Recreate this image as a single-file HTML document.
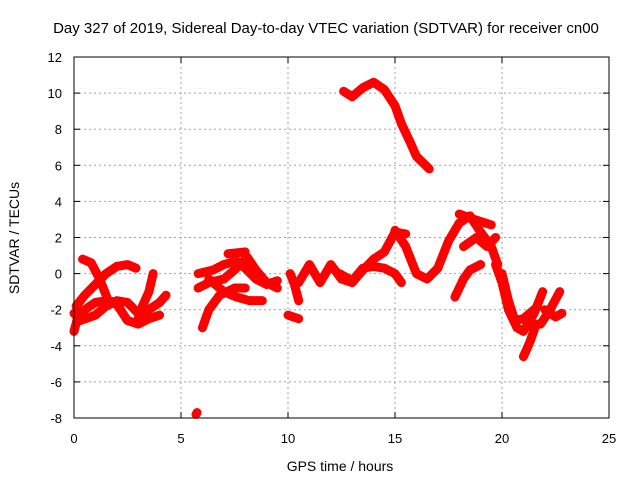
<!DOCTYPE html>
<html><head><meta charset="utf-8"><style>
body{margin:0;background:#fff;}
svg{font-family:"Liberation Sans",sans-serif;}
</style></head><body>
<svg id="chart" width="640" height="480">
<text x="326" y="33" font-size="15" text-anchor="middle">Day 327 of 2019, Sidereal Day-to-day VTEC variation (SDTVAR) for receiver cn00</text>
<text x="340" y="471" font-size="14" text-anchor="middle">GPS time / hours</text>
<text transform="translate(19,238) rotate(-90)" font-size="14" text-anchor="middle">SDTVAR / TECUs</text>
<g id="grid"></g><g id="marks"></g>
<rect x="74" y="57" width="535" height="361" fill="none" stroke="#000"/>
</svg>
<script>
const xTicks=[0,5,10,15,20,25];
const yTicks=[-8,-6,-4,-2,0,2,4,6,8,10,12];
const traceA=[[0,-2.2],[0.3,-2.6],[1,-2.3],[1.5,-1.8],[2,-1.5],[2.5,-1.6],[3,-2.2],[3.5,-2.0],[4,-1.6],[4.3,-1.2]];
const traceB=[[0,-3.2],[0.2,-2.3],[0.5,-2.0],[1,-1.6],[1.5,-1.5],[2,-1.7],[2.5,-2.6],[3,-2.8],[3.5,-2.5],[4,-2.3]];
const traceC=[[0.4,0.8],[0.8,0.6],[1.2,-0.3],[1.6,-1.5],[2,-1.6]];
const traceD=[[0.1,-1.8],[0.5,-1.2],[1,-0.6],[1.5,0.0],[2,0.4],[2.5,0.5],[2.9,0.3]];
const traceE=[[3.7,0.0],[3.5,-1.0],[3.2,-1.8],[3.0,-2.5]];
const traceF=[[5.7,-7.8],[5.75,-7.7]];
const traceG=[[6.0,-3],[6.3,-2],[6.8,-1.2],[7.5,-0.8],[8,-0.8]];
const traceH=[[5.8,0],[6.5,0.2],[7,0.5],[7.6,0.7],[8,0.3],[8.5,-0.3],[9,-0.6],[9.5,-0.4]];
const traceI=[[5.8,-0.8],[6.3,-0.5],[7,-0.3],[7.5,0.2],[8.1,0.9],[8.5,0.2],[9,-0.5],[9.5,-0.8]];
const traceJ=[[7.2,1.1],[8.0,1.2]];
const traceK=[[6.3,-0.3],[7,-1.0],[7.6,-1.3],[8.2,-1.5],[8.8,-1.5]];
const traceL=[[10,-2.3],[10.5,-2.5]];
const traceM=[[10.1,0],[10.3,-0.6],[10.5,-1.5]];
const traceN=[[10.5,-0.5],[11,0.5],[11.5,-0.5],[12,0.5],[12.5,-0.3],[13,-0.5],[13.5,0.2],[14,0.8],[14.5,1.2],[15,2.3],[15.5,2.2]];
const traceO=[[12.4,0],[13,-0.4],[13.5,0.3],[14,0.4],[14.5,0.3],[15,0.0],[15.3,-0.5]];
const traceP=[[15,2.4],[15.5,1.5],[16,0.0],[16.5,-0.3],[17,0.3],[17.5,1.8],[18,2.8],[18.5,3.2],[19,2.3],[19.5,1.5],[19.8,0.5]];
const traceQ=[[17.8,-1.3],[18.2,-0.3],[18.5,0.2],[19,0.5]];
const traceR=[[18.2,1.5],[18.8,2.0],[19.3,1.5],[19.7,2.0]];
const traceS=[[18,3.3],[18.7,3.0],[19.5,2.7]];
const traceT=[[19.7,0.5],[20,-0.5],[20.3,-2],[20.7,-3],[21,-3.2],[21.5,-2.2],[21.9,-1.0]];
const traceU=[[20,0],[20.3,-1.5],[20.6,-2.6],[21,-2.5],[21.5,-2]];
const traceV=[[21,-4.6],[21.3,-3.8],[21.6,-2.8]];
const traceW=[[21.8,-2.8],[22.2,-2.1],[22.7,-1.0]];
const traceX=[[22,-2.0],[22.5,-2.4],[22.8,-2.2]];
const traceY=[[12.6,10.1],[13,9.8],[13.5,10.3],[14,10.6],[14.5,10.2],[15,9.3],[15.3,8.3],[15.7,7.3],[16,6.5],[16.6,5.8]];
const traces=[traceA,traceB,traceC,traceD,traceE,traceF,traceG,traceH,traceI,traceJ,traceK,traceL,traceM,traceN,traceO,traceP,traceQ,traceR,traceS,traceT,traceU,traceV,traceW,traceX,traceY];

const NS="http://www.w3.org/2000/svg";
const X0=74,X1=609,Y0=418,Y1=57;
function sx(v){return X0+(v-0)/(25-0)*(X1-X0);}
function sy(v){return Y0-(v+8)/(20)*(Y0-Y1);}
const grid=document.getElementById('grid'),marks=document.getElementById('marks');
function mk(tag,attrs,parent){const e=document.createElementNS(NS,tag);for(const k in attrs)e.setAttribute(k,attrs[k]);parent.appendChild(e);return e;}
xTicks.forEach(t=>{
  const x=sx(t);
  if(t>0&&t<25){const g=mk('line',{x1:x,x2:x,y1:Y1,y2:Y0,stroke:'#a0a0a0','stroke-dasharray':'2,3'},grid);
  
  }
  mk('line',{x1:x,x2:x,y1:Y0,y2:Y0-6,stroke:'#000'},grid);
  mk('line',{x1:x,x2:x,y1:Y1,y2:Y1+6,stroke:'#000'},grid);
  const l=mk('text',{x:x,y:443,'font-size':13,'text-anchor':'middle'},grid);l.textContent=t;
  
  
});
yTicks.forEach(t=>{
  const y=sy(t);
  if(t>-8&&t<12){const g=mk('line',{x1:X0,x2:X1,y1:y,y2:y,stroke:'#a0a0a0','stroke-dasharray':'2,3'},grid);
  
  }
  mk('line',{x1:X0,x2:X0+6,y1:y,y2:y,stroke:'#000'},grid);
  mk('line',{x1:X1,x2:X1-6,y1:y,y2:y,stroke:'#000'},grid);
  const l=mk('text',{x:62,y:y+5,'font-size':13,'text-anchor':'end'},grid);l.textContent=t;
  
  
});
traces.forEach(tr=>{
  const p=mk('polyline',{points:tr.map(d=>sx(d[0])+','+sy(d[1])).join(' '),fill:'none',stroke:'#ff0000','stroke-width':9,'stroke-linejoin':'round','stroke-linecap':'round'},marks);
  
  
  tr.forEach(d=>{
    const x=sx(d[0]),y=sy(d[1]);
    const m=mk('path',{d:`M${x-4},${y}H${x+4}M${x},${y-4}V${y+4}`,stroke:'#ff0000','stroke-width':1.5},marks);
    
    
  });
});
</script>
</body></html>
